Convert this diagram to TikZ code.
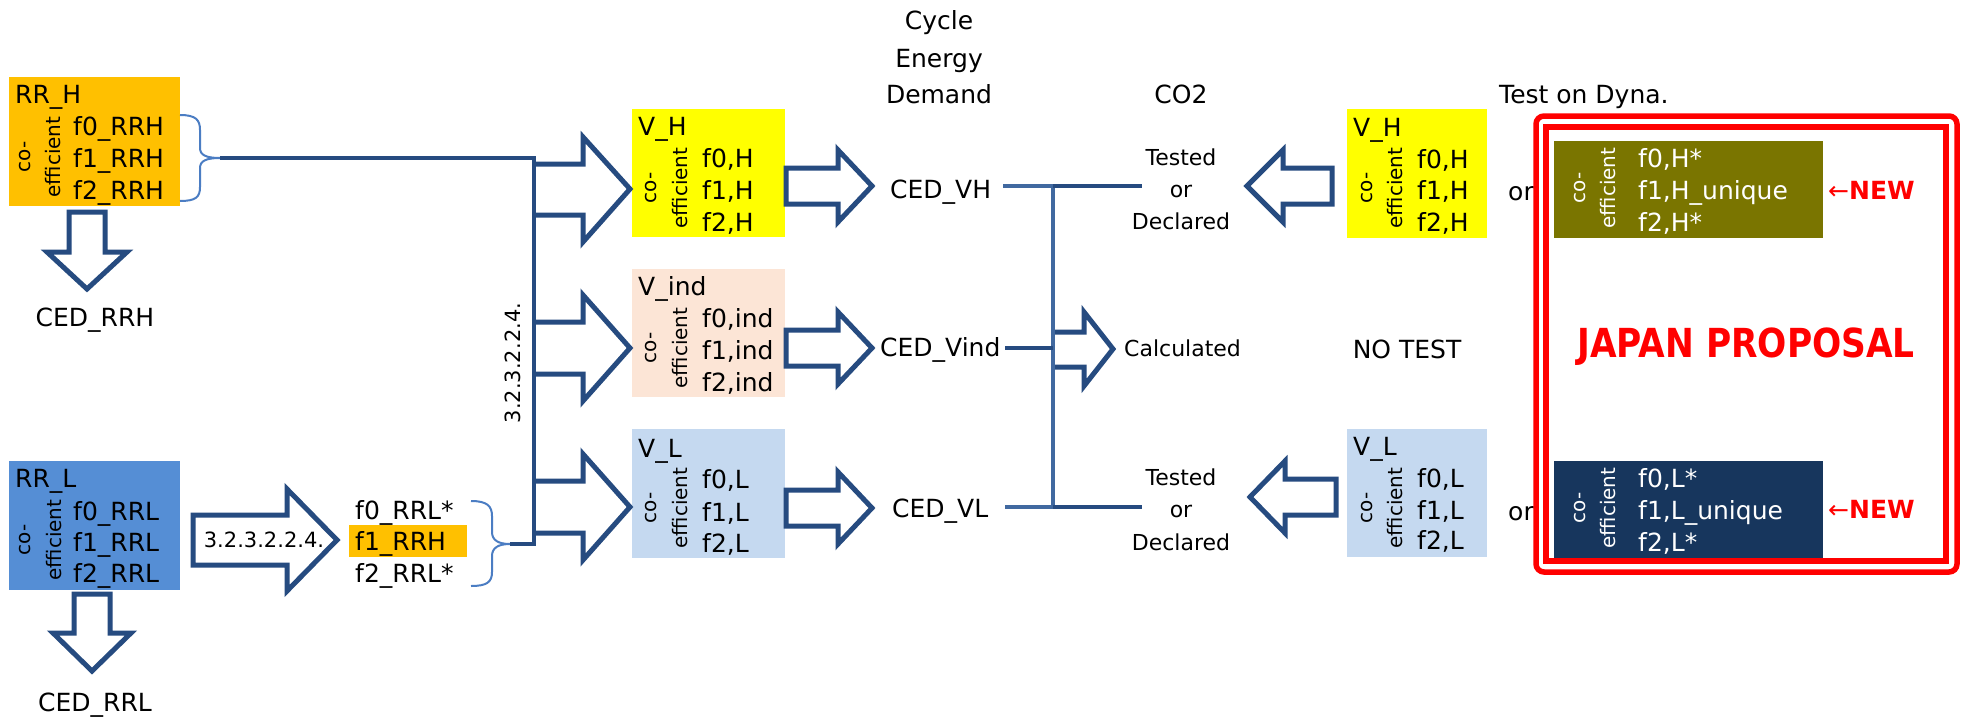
\documentclass[tikz,border=0pt]{standalone}
\usepackage{fontspec}
\setmainfont{DejaVu Sans}
\newfontfamily\jpfont[FakeStretch=0.86]{DejaVu Sans}
\definecolor{arr}{RGB}{38,75,128}
\definecolor{lnkl}{RGB}{65,105,160}
\definecolor{brc}{RGB}{75,125,195}
\definecolor{rrh}{RGB}{255,192,0}
\definecolor{rrl}{RGB}{85,142,213}
\definecolor{vh}{RGB}{255,255,0}
\definecolor{vind}{RGB}{252,229,214}
\definecolor{vl}{RGB}{197,217,240}
\definecolor{olivebox}{RGB}{122,117,0}
\definecolor{navybox}{RGB}{23,54,93}
\definecolor{jred}{RGB}{255,0,0}
\begin{document}
\begin{tikzpicture}[x=1pt,y=-1pt,
  box/.style={inner sep=0pt,outer sep=0pt,anchor=north west,draw=none},
  txt/.style={inner sep=0pt,font=\fontsize{25}{30}\selectfont},
  txts/.style={inner sep=0pt,font=\fontsize{22}{26}\selectfont},
  txtl/.style={inner sep=0pt,font=\fontsize{21}{25}\selectfont},
  txtc/.style={inner sep=0pt,font=\fontsize{20}{24}\selectfont,rotate=90},
  barrow/.style={draw=arr,line width=5pt,fill=white,line join=miter},
  oarrow/.style={draw=arr,line width=5pt,line join=miter},
  link/.style={draw=arr,line width=4.5pt},
  linkl/.style={draw=lnkl,line width=4pt},
  bracestyle/.style={draw=brc,line width=2pt},
  newlab/.style={inner sep=0pt,text=jred,font=\fontsize{25}{30}\selectfont}
]
\fill[white] (0,0) rectangle (1964,717);
\useasboundingbox (0,0) rectangle (1964,717);

% ---------- boxes ----------
\node[box,fill=rrh,minimum width=171pt,minimum height=129pt] (rrhbox) at (9,77) {};
\node[box,fill=rrl,minimum width=171pt,minimum height=129pt] (rrlbox) at (9,461) {};
\node[box,fill=vh,minimum width=153pt,minimum height=128pt] (vhbox) at (632,109) {};
\node[box,fill=vind,minimum width=153pt,minimum height=128pt] (vindbox) at (632,269) {};
\node[box,fill=vl,minimum width=153pt,minimum height=129pt] (vlbox) at (632,429) {};
\node[box,fill=vh,minimum width=140pt,minimum height=129pt] (vhbox2) at (1347,109) {};
\node[box,fill=vl,minimum width=140pt,minimum height=128pt] (vlbox2) at (1347,429) {};
\node[box,fill=olivebox,minimum width=269pt,minimum height=97pt] (olbox) at (1554,141) {};
\node[box,fill=navybox,minimum width=269pt,minimum height=97pt] (nvbox) at (1554,461) {};
\node[box,fill=rrh,minimum width=118pt,minimum height=32pt] (f1hl) at (349,525) {};

% ---------- RR_H ----------
\node[txt,anchor=base west] (rrhT) at (15,103) {RR\_H};
\node[txt,anchor=base west] (rrh0) at (73,135) {f0\_RRH};
\node[txt,anchor=base west] (rrh1) at (73,167) {f1\_RRH};
\node[txt,anchor=base west] (rrh2) at (73,199) {f2\_RRH};
\node[txtc] (rrhco) at (25,157) {co-};
\node[txtc] (rrhef) at (53,157) {efficient};
\node[txt,anchor=base] (cedrrh) at (95,326) {CED\_RRH};

% ---------- RR_L ----------
\node[txt,anchor=base west] (rrlT) at (15,487) {RR\_L};
\node[txt,anchor=base west] (rrl0) at (73,520) {f0\_RRL};
\node[txt,anchor=base west] (rrl1) at (73,551) {f1\_RRL};
\node[txt,anchor=base west] (rrl2) at (73,582) {f2\_RRL};
\node[txtc] (rrlco) at (25,540) {co-};
\node[txtc] (rrlef) at (54,540) {efficient};
\node[txt,anchor=base] (cedrrl) at (95,711) {CED\_RRL};

% converted RR_L
\node[txt,anchor=base west] (c0) at (355,519) {f0\_RRL*};
\node[txt,anchor=base west] (c1) at (355,550) {f1\_RRH};
\node[txt,anchor=base west] (c2) at (355,582) {f2\_RRL*};

% ---------- V boxes (middle) ----------
\node[txt,anchor=base west] (vhT) at (638,135) {V\_H};
\node[txt,anchor=base west] (vh0) at (702,167) {f0,H};
\node[txt,anchor=base west] (vh1) at (702,199) {f1,H};
\node[txt,anchor=base west] (vh2) at (702,231) {f2,H};
\node[txtc] (vhco) at (651,188) {co-};
\node[txtc] (vhef) at (680,188) {efficient};

\node[txt,anchor=base west] (vindT) at (638,295) {V\_ind};
\node[txt,anchor=base west] (vind0) at (702,327) {f0,ind};
\node[txt,anchor=base west] (vind1) at (702,359) {f1,ind};
\node[txt,anchor=base west] (vind2) at (702,391) {f2,ind};
\node[txtc] (vindco) at (651,348) {co-};
\node[txtc] (vindef) at (680,348) {efficient};

\node[txt,anchor=base west] (vlT) at (638,457) {V\_L};
\node[txt,anchor=base west] (vl0) at (702,488) {f0,L};
\node[txt,anchor=base west] (vl1) at (702,521) {f1,L};
\node[txt,anchor=base west] (vl2) at (702,552) {f2,L};
\node[txtc] (vlco) at (651,508) {co-};
\node[txtc] (vlef) at (680,508) {efficient};

% ---------- headings ----------
\node[txt,anchor=base] (h1) at (939,30) {Cycle};
\node[txt,anchor=base] (h2) at (939,67) {Energy};
\node[txt,anchor=base] (h3) at (939,103) {Demand};
\node[txt,anchor=base] (hco2) at (1181,103) {CO2};
\node[txt,anchor=base west] (htest) at (1499,103) {Test on Dyna.};

% ---------- CED ----------
\node[txt,anchor=base west] (cedvh) at (890,198) {CED\_VH};
\node[txt,anchor=base west] (cedvind) at (880,356) {CED\_Vind};
\node[txt,anchor=base west] (cedvl) at (892,517) {CED\_VL};

% ---------- CO2 column ----------
\node[txts,anchor=base] (t1) at (1181,165) {Tested};
\node[txts,anchor=base] (o1) at (1181,197) {or};
\node[txts,anchor=base] (d1) at (1181,229) {Declared};
\node[txts,anchor=base west] (calc) at (1124,356) {Calculated};
\node[txts,anchor=base] (t2) at (1181,485) {Tested};
\node[txts,anchor=base] (o2) at (1181,517) {or};
\node[txts,anchor=base] (d2) at (1181,550) {Declared};
\node[txt,anchor=base] (notest) at (1407,358) {NO TEST};

% ---------- right V boxes ----------
\node[txt,anchor=base west] (rvhT) at (1353,136) {V\_H};
\node[txt,anchor=base west] (rvh0) at (1417,168) {f0,H};
\node[txt,anchor=base west] (rvh1) at (1417,199) {f1,H};
\node[txt,anchor=base west] (rvh2) at (1417,231) {f2,H};
\node[txtc] (rvhco) at (1367,188) {co-};
\node[txtc] (rvhef) at (1395,188) {efficient};

\node[txt,anchor=base west] (rvlT) at (1353,455) {V\_L};
\node[txt,anchor=base west] (rvl0) at (1417,487) {f0,L};
\node[txt,anchor=base west] (rvl1) at (1417,519) {f1,L};
\node[txt,anchor=base west] (rvl2) at (1417,549) {f2,L};
\node[txtc] (rvlco) at (1367,508) {co-};
\node[txtc] (rvlef) at (1395,508) {efficient};

\node[txt,anchor=base west] (or1) at (1508,200) {or};
\node[txt,anchor=base west] (or2) at (1508,520) {or};

% ---------- Japan proposal ----------
\node[txt,anchor=base west,text=white] (ol0) at (1638,167) {f0,H*};
\node[txt,anchor=base west,text=white] (ol1) at (1638,199) {f1,H\_unique};
\node[txt,anchor=base west,text=white] (ol2) at (1638,231) {f2,H*};
\node[txtc,text=white] (olco) at (1580,188) {co-};
\node[txtc,text=white] (olef) at (1608,188) {efficient};

\node[txt,anchor=base west,text=white] (nv0) at (1638,487) {f0,L*};
\node[txt,anchor=base west,text=white] (nv1) at (1638,519) {f1,L\_unique};
\node[txt,anchor=base west,text=white] (nv2) at (1638,551) {f2,L*};
\node[txtc,text=white] (nvco) at (1580,508) {co-};
\node[txtc,text=white] (nvef) at (1608,508) {efficient};

\node[newlab,anchor=base west] (new1) at (1828,199) {←\textbf{NEW}};
\node[newlab,anchor=base west] (new2) at (1828,518) {←\textbf{NEW}};
\node[inner sep=0pt,text=jred,font={\jpfont\bfseries\fontsize{40}{48}\selectfont}] (jp) at (1746,347) {JAPAN PROPOSAL};

\draw[jred,line width=5.5pt,rounded corners=8pt] (1536,116) rectangle (1957,572);
\draw[jred,line width=5.5pt] (1546,127) rectangle (1946,561);

% ---------- block arrows ----------
\draw[barrow] (69,212) -- (105,212) -- (105,252) -- (127,252) -- (87,289) -- (47,252) -- (69,252) -- cycle;
\draw[barrow] (74,594) -- (110,594) -- (110,633) -- (131,633) -- (92,671) -- (53,633) -- (74,633) -- cycle;
\draw[barrow] (193,515) -- (287,515) -- (287,489) -- (337,540) -- (287,591) -- (287,565) -- (193,565) -- cycle;
\node[txtl] (lab1) at (264,540) {3.2.3.2.2.4.};

\draw[oarrow] (534,164) -- (583,164) -- (583,137) -- (630,189) -- (583,242) -- (583,215) -- (534,215);
\draw[oarrow] (534,322) -- (583,322) -- (583,295) -- (630,348) -- (583,401) -- (583,374) -- (534,374);
\draw[oarrow] (534,481) -- (583,481) -- (583,454) -- (630,507) -- (583,560) -- (583,533) -- (534,533);

\draw[barrow] (786,168) -- (838,168) -- (838,150) -- (872,186) -- (838,222) -- (838,204) -- (786,204) -- cycle;
\draw[barrow] (786,330) -- (838,330) -- (838,312) -- (872,348) -- (838,384) -- (838,366) -- (786,366) -- cycle;
\draw[barrow] (786,490) -- (838,490) -- (838,472) -- (872,508) -- (838,544) -- (838,526) -- (786,526) -- cycle;

\draw[oarrow] (1053,332) -- (1084,332) -- (1084,312) -- (1113,349) -- (1084,386) -- (1084,367) -- (1053,367);

\draw[barrow] (1332,168) -- (1283,168) -- (1283,150) -- (1247,186) -- (1283,222) -- (1283,204) -- (1332,204) -- cycle;
\draw[barrow] (1336,479) -- (1285,479) -- (1285,461) -- (1250,497) -- (1285,533) -- (1285,515) -- (1336,515) -- cycle;

% ---------- braces ----------
\coordinate (rrhtip) at (220,158);
\coordinate (rrltip) at (510,544);
\draw[bracestyle] (180,115) .. controls (196,115) and (200,120) .. (200,130) -- (200,148) .. controls (200,155) and (206,158) .. (rrhtip) .. controls (206,158) and (200,161) .. (200,168) -- (200,187) .. controls (200,197) and (196,201) .. (180,201);
\draw[bracestyle] (471,501) .. controls (487,501) and (492,506) .. (492,516) -- (492,532) .. controls (492,540) and (498,544) .. (rrltip) .. controls (498,544) and (492,548) .. (492,556) -- (492,572) .. controls (492,582) and (487,586) .. (471,586);

% ---------- bus ----------
\coordinate (busT) at (534,158);
\coordinate (busB) at (534,544);
\draw[link] (rrhtip) -- (busT) -- (busB) -- (rrltip);
\node[txtl,rotate=90] (lab2) at (513,363) {3.2.3.2.2.4.};

% ---------- CO2 bus ----------
\coordinate (vhs) at (1003,186);
\coordinate (vinds) at (1005,348);
\coordinate (vls) at (1005,507);
\coordinate (jT) at (1053,186);
\coordinate (jM) at (1053,348);
\coordinate (jB) at (1053,507);
\coordinate (tdT) at (1142,186);
\coordinate (tdB) at (1142,507);
\draw[linkl] (vhs) -- (jT);
\draw[linkl] (vls) -- (jB);
\draw[linkl] (jT) -- (jB);
\draw[link] (vinds) -- (jM);
\draw[link] (jT) -- (tdT);
\draw[link] (jB) -- (tdB);
\end{tikzpicture}
\end{document}
